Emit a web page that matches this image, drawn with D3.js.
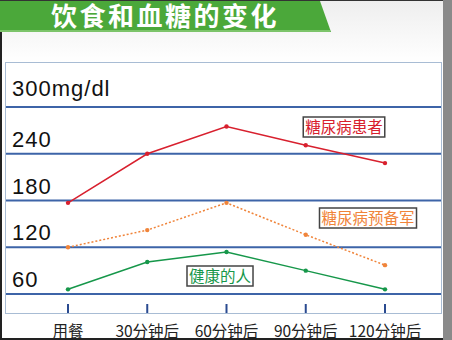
<!DOCTYPE html>
<html>
<head>
<meta charset="utf-8">
<script src="https://cdn.jsdelivr.net/npm/d3@7/dist/d3.min.js"></script>
<style>
body { margin: 0; background: #fff; }
text { font-family: "Noto Sans CJK SC", "Liberation Sans", sans-serif; }
</style>
</head>
<body>
<svg id="main" width="452" height="340"></svg>
<script>
var times = ["用餐", "30分钟后", "60分钟后", "90分钟后", "120分钟后"];
var diabetic = [177, 240, 275, 251, 228];
var prediabetic = [120, 142, 177, 136, 97];
var healthy = [66, 101, 114, 90, 66];
var yTicks = [60, 120, 180, 240, 300];
var yLabels = ["60", "120", "180", "240", "300mg/dl"];

var svg = d3.select("#main");
var defs = svg.append("defs");
var bg = defs.append("linearGradient").attr("id", "topfade").attr("x1", 0).attr("x2", 0).attr("y1", 0).attr("y2", 1);
bg.append("stop").attr("offset", "0").attr("stop-color", "#eeeeee");
bg.append("stop").attr("offset", "1").attr("stop-color", "#ffffff");

svg.append("rect").attr("width", 452).attr("height", 340).attr("fill", "#ffffff");
svg.append("rect").attr("width", 443).attr("height", 62).attr("fill", "url(#topfade)");
// right grey strip and outer edges
svg.append("rect").attr("x", 443).attr("y", 0).attr("width", 9).attr("height", 340).attr("fill", "#8a8a8a");
svg.append("rect").attr("x", 0).attr("y", 0).attr("width", 443).attr("height", 1).attr("fill", "#333");
svg.append("rect").attr("x", 0).attr("y", 32).attr("width", 2).attr("height", 308).attr("fill", "#222");
svg.append("rect").attr("x", 0).attr("y", 338).attr("width", 443).attr("height", 2).attr("fill", "#222");

// green banner
svg.append("polygon").attr("points", "0,1 320,1 331,32 0,32").attr("fill", "#4ba83a");
svg.append("rect").attr("x", 0).attr("y", 30).attr("width", 330).attr("height", 2).attr("fill", "#7cc46a");
svg.append("text").text("饮食和血糖的变化").attr("x", 51).attr("y", 26)
  .attr("fill", "#ffffff").attr("font-size", 26).attr("font-weight", "bold").attr("letter-spacing", 2.5);

// plot box
svg.append("rect").attr("x", 5.5).attr("y", 62.5).attr("width", 436).attr("height", 251)
  .attr("fill", "#ffffff").attr("stroke", "#a8bcd4").attr("stroke-width", 1);

var x = d3.scalePoint().domain(times).range([68, 385]);
var y = d3.scaleLinear().domain([60, 300]).range([294, 107]);

var grid = svg.append("g");
grid.selectAll("line").data(yTicks).join("line")
  .attr("x1", 6).attr("x2", 441)
  .attr("y1", function(d) { return y(d); }).attr("y2", function(d) { return y(d); })
  .attr("stroke", "#3d64a8").attr("stroke-width", 2);
grid.selectAll("text").data(yTicks).join("text")
  .text(function(d, i) { return yLabels[i]; })
  .attr("x", 12).attr("y", function(d) { return y(d) - (d == 300 ? 11 : 7); })
  .style("font-family", "'Liberation Sans', Arial, sans-serif")
  .attr("font-size", 22).attr("letter-spacing", 1).attr("fill", "#111");

// x ticks and labels
var xa = svg.append("g");
xa.selectAll("line").data(times).join("line")
  .attr("x1", function(d) { return x(d); }).attr("x2", function(d) { return x(d); })
  .attr("y1", 304).attr("y2", 313).attr("stroke", "#2a4a90").attr("stroke-width", 2);
xa.selectAll("text").data(times).join("text")
  .text(function(d) { return d; })
  .attr("x", function(d) { return x(d); }).attr("y", 337)
  .attr("text-anchor", "middle").attr("font-size", 15.5).attr("fill", "#222");

var line = d3.line().x(function(d, i) { return x(times[i]); }).y(function(d) { return y(d); });
var series = [
  { vals: diabetic, color: "#d8202e", dash: null, label: "糖尿病患者", lx: 344, ly: 127 },
  { vals: prediabetic, color: "#f0843a", dash: "2,2", label: "糖尿病预备军", lx: 368, ly: 218 },
  { vals: healthy, color: "#16974a", dash: null, label: "健康的人", lx: 220, ly: 276 }
];
series.forEach(function(s) {
  var g = svg.append("g");
  g.append("path").attr("d", line(s.vals)).attr("fill", "none")
    .attr("stroke", s.color).attr("stroke-width", 1.5).attr("stroke-dasharray", s.dash);
  g.selectAll("circle").data(s.vals).join("circle")
    .attr("cx", function(d, i) { return x(times[i]); }).attr("cy", function(d) { return y(d); })
    .attr("r", 2.2).attr("fill", s.color);
  var t = g.append("text").text(s.label).attr("x", s.lx).attr("y", s.ly + 5.5)
    .attr("text-anchor", "middle").attr("font-size", 15.5).attr("fill", s.color);
  var bb = t.node().getBBox();
  g.insert("rect", "text").attr("x", bb.x - 2).attr("y", s.ly - 10).attr("width", bb.width + 4).attr("height", 20)
    .attr("fill", "#ffffff").attr("stroke", "#444").attr("stroke-width", 1.5);
});
</script>
</body>
</html>
